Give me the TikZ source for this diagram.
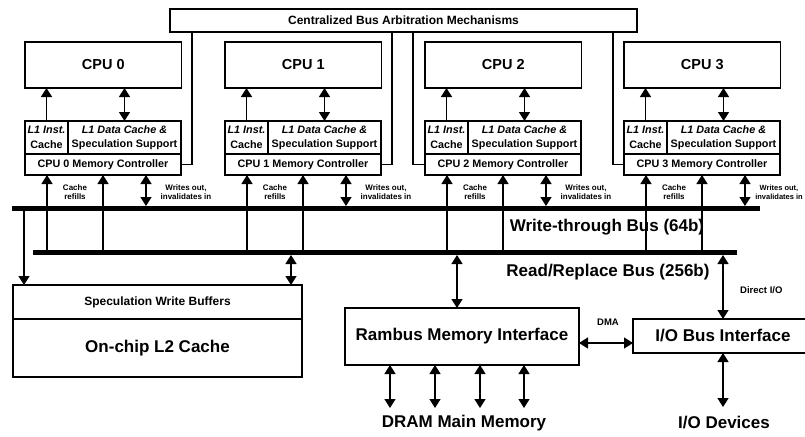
\documentclass[tikz,border=0pt]{standalone}
\usepackage{fontspec}
\setmainfont{Liberation Sans}
\usetikzlibrary{arrows.meta,calc}
\tikzset{
  box/.style={draw, line width=1.2pt, inner sep=0pt, outer sep=0pt, anchor=north west, align=center},
  arr/.style={line width=1.4pt, -{Triangle[length=9pt,width=11pt]}},
  bi/.style={line width=1.4pt, {Triangle[length=9pt,width=11pt]}-{Triangle[length=9pt,width=11pt]}},
  bus/.style={line width=5pt},
  plainline/.style={line width=1.3pt},
  bigf/.style={font=\fontsize{17}{20}\selectfont\bfseries},
  cpuf/.style={font=\fontsize{14.5}{17}\selectfont\bfseries},
  midf/.style={font=\fontsize{12}{14}\selectfont\bfseries},
  smf/.style={font=\fontsize{10.8}{14.5}\selectfont\bfseries},
  tinyf/.style={font=\fontsize{8}{9}\selectfont\bfseries, align=center, inner sep=0pt},
  lblf/.style={font=\fontsize{9.5}{11}\selectfont\bfseries, inner sep=0pt},
}
\begin{document}
\begin{tikzpicture}[x=1pt,y=-1pt]
\useasboundingbox (0,0) rectangle (805,436);
\fill[white] (0,0) rectangle (805,436);
\clip (0,0) rectangle (805,436);

% arbitration
\node[box, midf, minimum width=467pt, minimum height=23pt] (arb) at (170,9) {Centralized Bus Arbitration Mechanisms};

% buses
\coordinate (wbL) at (12,208);
\coordinate (wbR) at (760,208);
\coordinate (rbL) at (33,252);
\coordinate (rbR) at (737,252);
\draw[bus] (wbL) -- (wbR);
\draw[bus] (rbL) -- (rbR);

\node[bigf, inner sep=0pt] (wbt) at (607,227) {Write-through Bus (64b)};
\node[bigf, inner sep=0pt] (rbt) at (608,272) {Read/Replace Bus (256b)};

% CPUs
\foreach \i/\o in {0/0,1/200,2/400,3/599}{
  \node[box, cpuf, minimum width=156.5pt, minimum height=46pt] (cpu\i) at (25+\o,42) {CPU \i};
  \node[box, smf, minimum width=43pt, minimum height=33pt] (inst\i) at (25+\o,121) {{\itshape L1 Inst.}\\Cache};
  \node[box, smf, minimum width=113pt, minimum height=33pt] (data\i) at (68+\o,121) {{\itshape L1 Data Cache \&}\\Speculation Support};
  \node[box, smf, minimum width=156pt, minimum height=21pt] (mc\i) at (25+\o,154) {CPU \i\ Memory Controller};
  \draw[arr] (inst\i.north) -- (inst\i.north |- cpu\i.south);
  \draw[bi] (data\i.north) -- (data\i.north |- cpu\i.south);
  \coordinate (ra\i) at (47+\o,252);
  \coordinate (rb\i) at (103+\o,252);
  \coordinate (wc\i) at (146+\o,206);
  \draw[arr] (ra\i) -- (ra\i |- mc\i.south);
  \draw[arr] (rb\i) -- (rb\i |- mc\i.south);
  \draw[bi] (wc\i) -- (wc\i |- mc\i.south);
  \node[tinyf] (cr\i) at (75+\o,192) {Cache\\refills};
}
\foreach \i/\o in {0/0,1/200,2/400}{
  \node[tinyf] (wo\i) at (186+\o,192) {Writes out,\\invalidates in};
}
\node[tinyf, font=\fontsize{7.5}{9}\selectfont\bfseries] (wo3) at (779,192) {Writes out,\\invalidates in};

% arbitration lines
\coordinate (a0) at (192,32);
\coordinate (a1) at (392,32);
\coordinate (a2) at (413,32);
\coordinate (a3) at (613,32);
\draw[plainline] (a0) |- (mc0.east);
\draw[plainline] (a1) |- (mc1.east);
\draw[plainline] (a2) |- (mc2.west);
\draw[plainline] (a3) |- (mc3.west);

% L2
\node[box, midf, minimum width=289pt, minimum height=34pt] (swb) at (13,285) {Speculation Write Buffers};
\node[box, bigf, minimum width=289pt, minimum height=58pt] (l2) at (13,319) {On-chip L2 Cache};
\coordinate (wl) at (24,208);
\draw[arr] (wl) -- (wl |- swb.north);
\coordinate (rl) at (291,255);
\draw[bi] (rl) -- (rl |- swb.north);

% Rambus
\node[box, bigf, minimum width=234pt, minimum height=57pt] (ram) at (345,308) {Rambus Memory Interface};
\coordinate (rm) at (457,255);
\draw[bi] (rm) -- (rm |- ram.north);
\node[bigf, inner sep=0pt] (dram) at (464,423) {DRAM Main Memory};
\foreach \x in {390,435,480,524}{
  \coordinate (dk) at (\x,408);
  \draw[bi] (dk |- ram.south) -- (dk);
}

% I/O
\node[box, bigf, minimum width=180pt, minimum height=34pt] (io) at (633,319) {I/O Bus Interface};
\coordinate (dio) at (723,255);
\draw[bi] (dio) -- (dio |- io.north);
\node[lblf, anchor=west] (diol) at (740,290) {Direct I/O};
\coordinate (iodt) at (723,407);
\draw[bi] (io.south -| iodt) -- (iodt);
\node[bigf, inner sep=0pt] (iod) at (724,423) {I/O Devices};
\coordinate (dmal) at ([yshift=-6.5pt]ram.east);
\draw[bi] (dmal) -- (dmal -| io.west);
\node[lblf] (dmat) at (608,322) {DMA};
\end{tikzpicture}
\end{document}
